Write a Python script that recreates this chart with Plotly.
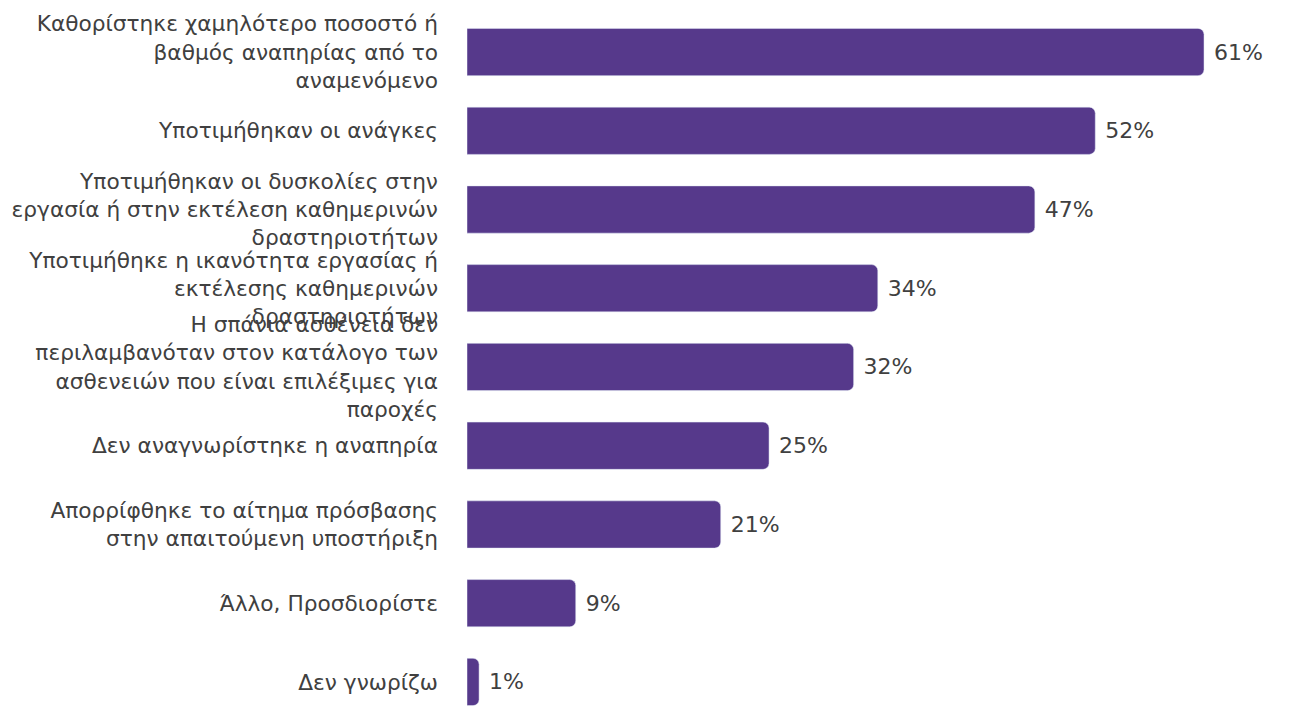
import plotly.graph_objects as go

# Data
categories = [
    "Καθορίστηκε χαμηλότερο ποσοστό ή<br>βαθμός αναπηρίας από το<br>αναμενόμενο",
    "Υποτιμήθηκαν οι ανάγκες",
    "Υποτιμήθηκαν οι δυσκολίες στην<br>εργασία ή στην εκτέλεση καθημερινών<br>δραστηριοτήτων",
    "Υποτιμήθηκε η ικανότητα εργασίας ή<br>εκτέλεσης καθημερινών<br>δραστηριοτήτων",
    "Η σπάνια ασθένεια δεν<br>περιλαμβανόταν στον κατάλογο των<br>ασθενειών που είναι επιλέξιμες για<br>παροχές",
    "Δεν αναγνωρίστηκε η αναπηρία",
    "Απορρίφθηκε το αίτημα πρόσβασης<br>στην απαιτούμενη υποστήριξη",
    "Άλλο, Προσδιορίστε",
    "Δεν γνωρίζω",
]
values = [61, 52, 47, 34, 32, 25, 21, 9, 1]
value_labels = ["61%", "52%", "47%", "34%", "32%", "25%", "21%", "9%", "1%"]

bar_color = "#56398B"
text_color = "#404040"
font_family = "DejaVu Sans, Verdana, sans-serif"

fig = go.Figure()
fig.add_trace(go.Bar(
    x=values,
    y=categories,
    orientation="h",
    width=0.6,
    marker=dict(color=bar_color, cornerradius=6),
    text=[" " + t for t in value_labels],
    textposition="outside",
    textfont=dict(family=font_family, size=22, color=text_color),
    cliponaxis=False,
    hoverinfo="skip",
))

# page body has an 8px margin, so the figure is a bit smaller than the window
fig.update_layout(
    width=1283,
    height=699,
    margin=dict(l=459, r=0, t=0, b=0),
    paper_bgcolor="white",
    plot_bgcolor="white",
    showlegend=False,
    font=dict(family=font_family, size=22, color=text_color),
)
fig.update_xaxes(range=[0, 68.2], visible=False, showgrid=False, zeroline=False, automargin=False)
fig.update_yaxes(
    type="category",
    range=[8.318, -0.559],
    showgrid=False,
    zeroline=False,
    showline=False,
    ticks="",
    automargin=False,
    ticklabelstandoff=28,
    tickfont=dict(family=font_family, size=21.7, color=text_color),
)

fig.write_html("out.html")
